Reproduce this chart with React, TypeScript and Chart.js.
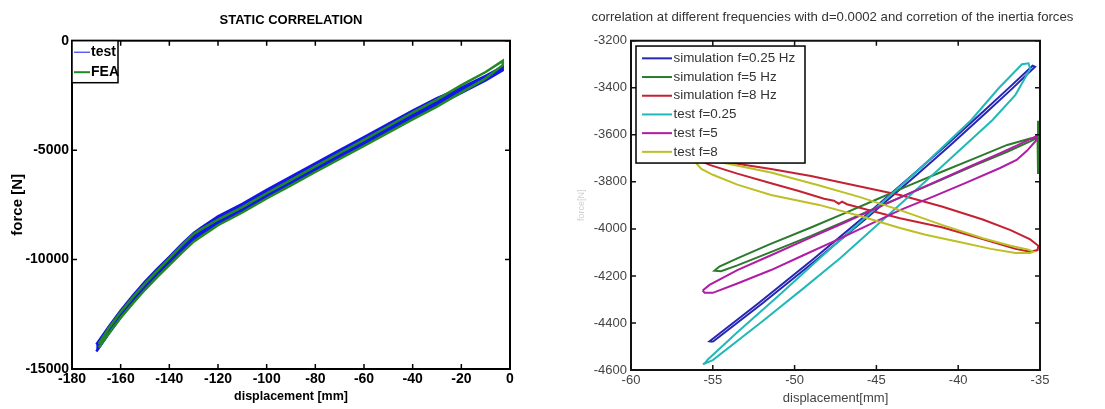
import React, { useEffect, useRef } from "react";
import { Chart, registerables } from "chart.js";

Chart.register(...registerables);

// ---------------- Left chart: STATIC CORRELATION ----------------
const staticTitle = "STATIC CORRELATION";
const staticXTitle = "displacement [mm]";
const staticYTitle = "force [N]";
const staticXTicks = [-180, -160, -140, -120, -100, -80, -60, -40, -20, 0];
const staticYTicks = [0, -5000, -10000, -15000];

// "test" – loading branch (upper edge) then unloading branch (lower edge)
const testLoadX = [-170, -165, -160, -155, -150, -145, -140, -135, -130, -127, -120, -110, -100, -90, -80, -70, -60, -50, -40, -30, -20, -10, -3];
const testLoadY = [-13880, -13080, -12330, -11650, -11010, -10430, -9880, -9310, -8780, -8550, -8030, -7450, -6810, -6210, -5600, -5000, -4410, -3800, -3190, -2620, -2140, -1610, -1180];
const testUnloadX = [-3, -10, -20, -30, -40, -50, -60, -70, -80, -90, -100, -110, -120, -127, -130, -135, -140, -145, -150, -155, -160, -165, -170];
const testUnloadY = [-1350, -1810, -2380, -2940, -3510, -4120, -4730, -5320, -5920, -6530, -7130, -7770, -8350, -8870, -9100, -9630, -10200, -10750, -11330, -11970, -12650, -13400, -14200];

// "FEA"
const feaLoadX = [-169, -165, -160, -155, -150, -145, -140, -135, -130, -127, -120, -110, -100, -90, -80, -70, -60, -50, -40, -30, -20, -10, -3];
const feaLoadY = [-13850, -13150, -12400, -11720, -11100, -10520, -9950, -9360, -8830, -8620, -8170, -7600, -6970, -6360, -5740, -5130, -4530, -3910, -3290, -2690, -2030, -1430, -920];
const feaUnloadX = [-3, -10, -20, -30, -40, -50, -60, -70, -80, -90, -100, -110, -120, -127, -130, -135, -140, -145, -150, -155, -160, -165, -169];
const feaUnloadY = [-1120, -1720, -2360, -3010, -3590, -4200, -4810, -5400, -6000, -6610, -7210, -7850, -8430, -8950, -9180, -9710, -10250, -10800, -11380, -12000, -12660, -13390, -14020];

// ---------------- Right chart: dynamic correlation ----------------
const dynTitle = "correlation at different frequencies with d=0.0002 and corretion of the inertia forces";
const dynXTitle = "displacement[mm]";
const dynYTitle = "force[N]";
const dynXTicks = [-60, -55, -50, -45, -40, -35];
const dynYTicks = [-3200, -3400, -3600, -3800, -4000, -4200, -4400, -4600];

const sim025X = [-55.0, -52.0, -48.6, -45.5, -42.6, -40.5, -38.4, -36.8, -35.3, -35.45, -37.05, -38.65, -40.75, -42.85, -45.75, -48.85, -52.25, -55.2, -55.0];
const sim025Y = [-4480, -4318, -4128, -3948, -3774, -3645, -3513, -3410, -3311, -3306, -3410, -3513, -3645, -3774, -3948, -4128, -4318, -4478, -4480];

const sim5X = [-35.12, -35.12, -35.15, -35.6, -37.0, -39.0, -41.0, -43.0, -45.0, -47.0, -49.0, -51.5, -53.5, -54.5, -54.9, -54.6, -53.5, -51.5, -49.0, -47.0, -45.0, -43.0, -41.0, -39.0, -37.0, -35.6, -35.2];
const sim5Y = [-3540, -3767, -3612, -3628, -3672, -3730, -3790, -3850, -3910, -3970, -4030, -4100, -4155, -4180, -4178, -4160, -4125, -4065, -3994, -3935, -3875, -3815, -3757, -3700, -3643, -3616, -3612];

const sim8X = [-56.3, -55.5, -54.0, -51.44, -49.0, -46.5, -43.56, -41.0, -38.5, -36.8, -35.6, -35.1, -35.15, -35.6, -36.5, -38.67, -41.0, -43.56, -45.5, -46.8, -47.1, -47.3, -47.6, -48.2, -49.8, -51.44, -53.5, -55.2, -56.0, -56.3];
const sim8Y = [-3688, -3700, -3718, -3745, -3775, -3812, -3856, -3905, -3960, -4005, -4045, -4072, -4090, -4097, -4085, -4040, -3993, -3955, -3920, -3895, -3884, -3893, -3880, -3872, -3838, -3806, -3765, -3728, -3702, -3688];

const test025X = [-55.6, -55.0, -52.0, -49.5, -47.2, -44.1, -41.1, -37.9, -36.5, -35.6, -35.7, -36.1, -37.5, -39.2, -42.3, -45.4, -48.45, -51.0, -53.5, -55.3, -55.45, -55.6];
const test025Y = [-4576, -4558, -4395, -4255, -4124, -3930, -3741, -3537, -3430, -3320, -3296, -3300, -3400, -3537, -3741, -3935, -4124, -4285, -4440, -4555, -4568, -4576];

const test5X = [-55.62, -55.2, -53.5, -51.44, -49.0, -47.0, -45.0, -43.5, -41.5, -39.5, -37.5, -36.4, -35.6, -35.2, -35.25, -35.8, -36.43, -37.44, -39.5, -41.5, -43.56, -45.5, -47.5, -49.5, -51.44, -53.5, -55.0, -55.5, -55.62];
const test5Y = [-4262, -4238, -4175, -4112, -4036, -3975, -3912, -3865, -3803, -3741, -3680, -3645, -3618, -3605, -3625, -3668, -3707, -3741, -3803, -3862, -3920, -3984, -4050, -4113, -4175, -4232, -4272, -4272, -4262];

const test8X = [-55.7, -54.15, -51.44, -48.65, -46.0, -43.56, -41.0, -38.5, -36.8, -35.7, -35.4, -35.6, -36.5, -38.0, -40.0, -42.0, -43.56, -46.0, -48.5, -51.44, -53.5, -55.0, -55.7, -56.0, -55.95, -55.7];
const test8Y = [-3700, -3722, -3760, -3812, -3865, -3920, -3983, -4040, -4072, -4088, -4097, -4103, -4102, -4085, -4055, -4025, -3996, -3945, -3898, -3856, -3812, -3770, -3745, -3722, -3708, -3700];

const pts = (xs: number[], ys: number[]) => xs.map((x, i) => ({ x, y: ys[i] }));

const framePlugin = {
  id: "frame",
  afterDatasetsDraw(chart: any, _args: any, opts: any) {
    const { ctx, chartArea: a, scales } = chart;
    ctx.save();
    ctx.strokeStyle = opts.color;
    ctx.lineWidth = opts.width;
    ctx.strokeRect(a.left, a.top, a.right - a.left, a.bottom - a.top);
    ctx.lineWidth = opts.tickWidth;
    const L = opts.tickLen;
    ctx.beginPath();
    for (const t of scales.x.ticks) {
      const px = scales.x.getPixelForValue(t.value);
      ctx.moveTo(px, a.bottom);
      ctx.lineTo(px, a.bottom - L);
      ctx.moveTo(px, a.top);
      ctx.lineTo(px, a.top + L);
    }
    for (const t of scales.y.ticks) {
      const py = scales.y.getPixelForValue(t.value);
      ctx.moveTo(a.left, py);
      ctx.lineTo(a.left + L, py);
      ctx.moveTo(a.right, py);
      ctx.lineTo(a.right - L, py);
    }
    ctx.stroke();
    ctx.restore();
  },
};

const boxLegendPlugin = {
  id: "boxLegend",
  afterDraw(chart: any, _args: any, opts: any) {
    const { ctx, chartArea: a } = chart;
    const x0 = a.left + opts.dx;
    const y0 = a.top + opts.dy;
    ctx.save();
    ctx.fillStyle = "#fff";
    ctx.fillRect(x0, y0, opts.w, opts.h);
    ctx.strokeStyle = "#000";
    ctx.lineWidth = opts.borderWidth;
    ctx.strokeRect(x0, y0, opts.w, opts.h);
    ctx.font = opts.font;
    ctx.textBaseline = "middle";
    ctx.textAlign = "left";
    chart.data.datasets.forEach((ds: any, i: number) => {
      const cy = y0 + opts.firstY + i * opts.rowH;
      ctx.strokeStyle = ds.borderColor;
      ctx.lineWidth = opts.lineWidths ? opts.lineWidths[i] : ds.borderWidth;
      ctx.beginPath();
      ctx.moveTo(x0 + opts.lineX0, cy);
      ctx.lineTo(x0 + opts.lineX1, cy);
      ctx.stroke();
      ctx.fillStyle = opts.textColor;
      ctx.fillText(ds.label, x0 + opts.textX, cy);
    });
    ctx.restore();
  },
};

const SANS = "'Liberation Sans', Arial, sans-serif";

export default function App() {
  const leftRef = useRef<HTMLCanvasElement>(null);
  const rightRef = useRef<HTMLCanvasElement>(null);

  useEffect(() => {
    const left = new Chart(leftRef.current as HTMLCanvasElement, {
      type: "scatter",
      data: {
        datasets: [
          {
            label: "test",
            data: pts([...testLoadX, ...testUnloadX], [...testLoadY, ...testUnloadY]),
            showLine: true,
            borderColor: "#1414ec",
            backgroundColor: "#1414ec",
            fill: "shape",
            borderWidth: 2.5,
            pointRadius: 0,
            tension: 0,
            order: 2,
          },
          {
            label: "FEA",
            data: pts([...feaLoadX, ...feaUnloadX], [...feaLoadY, ...feaUnloadY]),
            showLine: true,
            borderColor: "#238a23",
            backgroundColor: "#238a23",
            fill: false,
            borderWidth: 2.5,
            pointRadius: 0,
            tension: 0,
            order: 1,
          },
        ],
      },
      options: {
        animation: false,
        responsive: false,
        layout: { padding: { left: 0, right: 50, top: 0, bottom: 0 } },
        plugins: {
          legend: { display: false },
          tooltip: { enabled: false },
          title: {
            display: true,
            text: staticTitle,
            fullSize: false,
            color: "#000",
            font: { family: SANS, size: 13, weight: "bold", lineHeight: 1.2 },
            padding: { top: 12.5, bottom: 12.6 },
          },
          frame: { color: "#000", width: 2, tickWidth: 1.5, tickLen: 5 },
          boxLegend: {
            dx: 0, dy: 0, w: 46, h: 42, borderWidth: 1.5,
            firstY: 11.5, rowH: 20, lineX0: 2, lineX1: 18, textX: 19,
            lineWidths: [1, 2],
            font: `bold 14px ${SANS}`, textColor: "#000",
          },
        } as any,
        scales: {
          x: {
            type: "linear",
            min: -180,
            max: 0,
            afterBuildTicks: (axis: any) => { axis.ticks = staticXTicks.map((v) => ({ value: v })); },
            afterFit: (s: any) => { s.height = 40; },
            grid: { display: false, drawTicks: false },
            border: { display: false },
            ticks: {
              autoSkip: false,
              maxRotation: 0,
              padding: 2,
              color: "#000",
              font: { family: SANS, size: 14, weight: "bold" },
              callback: (v: any) => String(v),
            },
            title: {
              display: true,
              text: staticXTitle,
              color: "#000",
              font: { family: SANS, size: 12.5, weight: "bold", lineHeight: 1.2 },
              padding: { top: 0, bottom: 4.5 },
            },
          },
          y: {
            type: "linear",
            min: -15000,
            max: 0,
            afterBuildTicks: (axis: any) => { axis.ticks = staticYTicks.map((v) => ({ value: v })); },
            afterFit: (s: any) => { s.width = 72; },
            grid: { display: false, drawTicks: false },
            border: { display: false },
            ticks: {
              autoSkip: false,
              padding: 3,
              color: "#000",
              font: { family: SANS, size: 14, weight: "bold" },
              callback: (v: any) => String(v),
            },
            title: {
              display: true,
              text: staticYTitle,
              color: "#000",
              font: { family: SANS, size: 15, weight: "bold", lineHeight: 1.2 },
              padding: { top: 9, bottom: 0 },
            },
          },
        },
      },
      plugins: [framePlugin, boxLegendPlugin],
    } as any);

    const line = (label: string, xs: number[], ys: number[], color: string, order: number) => ({
      label,
      data: pts(xs, ys),
      showLine: true,
      borderColor: color,
      backgroundColor: color,
      borderWidth: 2,
      pointRadius: 0,
      tension: 0,
      yAxisID: "y",
      order,
    });

    const right = new Chart(rightRef.current as HTMLCanvasElement, {
      type: "scatter",
      data: {
        datasets: [
          line("simulation f=0.25 Hz", sim025X, sim025Y, "#2626b4", 5),
          line("simulation f=5 Hz", sim5X, sim5Y, "#2c7a2c", 4),
          line("simulation f=8 Hz", sim8X, sim8Y, "#c42232", 3),
          line("test f=0.25", test025X, test025Y, "#22b8b8", 2),
          line("test f=5", test5X, test5Y, "#b01ca6", 1),
          line("test f=8", test8X, test8Y, "#bcc024", 0),
        ],
      },
      options: {
        animation: false,
        responsive: false,
        layout: { padding: { left: 0, right: 0, top: 0, bottom: 0 } },
        plugins: {
          legend: { display: false },
          tooltip: { enabled: false },
          title: {
            display: true,
            text: dynTitle,
            fullSize: true,
            color: "#333",
            font: { family: SANS, size: 13.2, weight: "normal", lineHeight: 1.2 },
            padding: { top: 9, bottom: 15.9 },
          },
          frame: { color: "#111", width: 2, tickWidth: 1.5, tickLen: 5 },
          boxLegend: {
            dx: 5, dy: 5.3, w: 169, h: 117, borderWidth: 1.5,
            firstY: 12.3, rowH: 18.7, lineX0: 6, lineX1: 36, textX: 37.5,
            font: `13.4px ${SANS}`, textColor: "#333",
          },
        } as any,
        scales: {
          x: {
            type: "linear",
            min: -60,
            max: -35,
            afterBuildTicks: (axis: any) => { axis.ticks = dynXTicks.map((v) => ({ value: v })); },
            afterFit: (s: any) => { s.height = 39; },
            grid: { display: false, drawTicks: false },
            border: { display: false },
            ticks: {
              autoSkip: false,
              maxRotation: 0,
              padding: 2.2,
              color: "#444",
              font: { family: SANS, size: 13 },
              callback: (v: any) => String(v),
            },
            title: {
              display: true,
              text: dynXTitle,
              color: "#444",
              font: { family: SANS, size: 13, lineHeight: 1.2 },
              padding: { top: 0, bottom: 3.2 },
            },
          },
          y: {
            type: "linear",
            position: "left",
            min: -4600,
            max: -3200,
            afterBuildTicks: (axis: any) => { axis.ticks = dynYTicks.map((v) => ({ value: v })); },
            afterFit: (s: any) => { s.width = 71; },
            grid: { display: false, drawTicks: false },
            border: { display: false },
            ticks: {
              autoSkip: false,
              padding: 4,
              color: "#444",
              font: { family: SANS, size: 13 },
              callback: (v: any) => String(v),
            },
            title: {
              display: true,
              text: dynYTitle,
              color: "#cfcfcf",
              font: { family: SANS, size: 9, lineHeight: 1.2 },
              padding: { top: 16.6, bottom: 0 },
            },
          },
          yGap: {
            type: "linear",
            position: "right",
            display: true,
            min: -4600,
            max: -3200,
            afterFit: (s: any) => { s.width = 65; },
            grid: { display: false, drawTicks: false },
            border: { display: false },
            ticks: { display: false },
          },
        },
      },
      plugins: [framePlugin, boxLegendPlugin],
    } as any);

    return () => {
      left.destroy();
      right.destroy();
    };
  }, []);

  return (
    <div style={{ position: "absolute", left: 0, top: 0, width: 1105, height: 409, background: "#fff" }}>
      <canvas
        ref={leftRef}
        width={560}
        height={409}
        style={{ position: "absolute", left: 0, top: 0, width: 560, height: 409 }}
      />
      <canvas
        ref={rightRef}
        width={545}
        height={409}
        style={{ position: "absolute", left: 560, top: 0, width: 545, height: 409 }}
      />
    </div>
  );
}
